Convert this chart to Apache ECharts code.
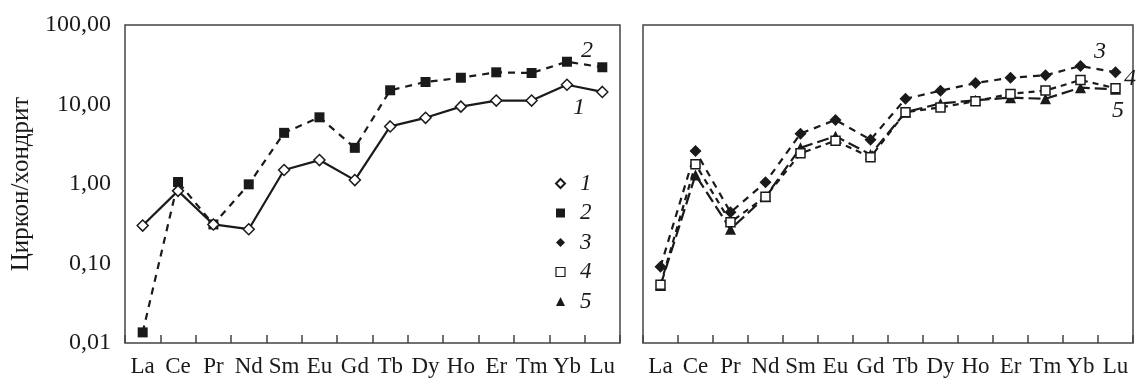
<!DOCTYPE html>
<html>
<head>
<meta charset="utf-8">
<script src="https://cdn.jsdelivr.net/npm/echarts@6/dist/echarts.min.js"></script>
<style>
  html, body { margin: 0; padding: 0; background: #fff; }
  #chart { width: 1136px; height: 380px; }
</style>
</head>
<body>
<div id="chart"></div>
<script>
/* REE, normalized to chondrite */
const elements = ['La', 'Ce', 'Pr', 'Nd', 'Sm', 'Eu', 'Gd', 'Tb', 'Dy', 'Ho', 'Er', 'Tm', 'Yb', 'Lu'];
const yTicks = [0.01, 0.1, 1, 10, 100];

// left panel
const sample1 = [0.30, 0.82, 0.31, 0.27, 1.5, 2.0, 1.12, 5.3, 6.8, 9.4, 11.2, 11.2, 17.7, 14.4];
const sample2 = [0.0136, 1.06, 0.31, 0.99, 4.4, 6.9, 2.85, 15.1, 19.2, 21.7, 25.4, 24.9, 34.5, 29.4];
// right panel
const sample3 = [0.091, 2.6, 0.44, 1.05, 4.3, 6.4, 3.6, 11.8, 14.9, 18.6, 21.7, 23.3, 30.5, 25.4];
const sample4 = [0.054, 1.77, 0.33, 0.69, 2.43, 3.5, 2.17, 8.0, 9.2, 11.0, 13.6, 15.0, 20.3, 16.0];
const sample5 = [0.053, 1.3, 0.27, 0.69, 2.85, 4.0, 2.35, 8.0, 10.3, 11.3, 12.2, 11.8, 16.3, 15.5];

const serif = '"Liberation Serif", "DejaVu Serif", serif';
const ink = '#1a1a1a';

const chart = echarts.init(document.getElementById('chart'));

const xAxisBase = (gridIndex) => ({
  type: 'category',
  gridIndex,
  data: elements,
  boundaryGap: true,
  axisLine: { show: false },
  axisTick: { show: true, inside: true, length: 8, interval: 0, lineStyle: { color: '#444', width: 1.5 } },
  axisLabel: { color: ink, fontFamily: serif, fontSize: 23, margin: 12, interval: 0 },
  splitLine: { show: false },
});

const yAxisBase = (gridIndex, showLabels) => ({
  type: 'log',
  logBase: 10,
  gridIndex,
  min: yTicks[0],
  max: yTicks[yTicks.length - 1],
  axisLine: { show: false },
  axisTick: { show: false },
  splitLine: { show: false },
  minorTick: { show: false },
  axisLabel: {
    show: showLabels,
    color: ink,
    fontFamily: serif,
    fontSize: 24,
    margin: 14,
    formatter: (v) => Number(v).toFixed(2).replace('.', ','),
  },
});

const makeSeries = (name, data, idx, symbol, filled, dash, size) => ({
  name,
  type: 'line',
  xAxisIndex: idx,
  yAxisIndex: idx,
  data,
  symbol,
  symbolSize: size,
  showSymbol: true,
  z: filled ? 3 : 4,
  lineStyle: { color: ink, width: 2.2, type: dash },
  itemStyle: {
    color: filled ? ink : '#fff',
    borderColor: ink,
    borderWidth: filled ? 0 : 1.5,
  },
  emphasis: { disabled: true },
});

const option = {
  animation: false,
  backgroundColor: '#fff',
  grid: [
    { left: 125, top: 25, width: 495, height: 318, show: true, borderColor: '#444', borderWidth: 1.5, containLabel: false },
    { left: 643, top: 25, width: 490, height: 318, show: true, borderColor: '#444', borderWidth: 1.5, containLabel: false },
  ],
  xAxis: [xAxisBase(0), xAxisBase(1)],
  yAxis: [
    Object.assign(yAxisBase(0, true), {
      name: 'Циркон/хондрит',
      nameLocation: 'middle',
      nameRotate: 90,
      nameGap: 91,
      nameTextStyle: { color: ink, fontFamily: serif, fontSize: 25 },
    }),
    yAxisBase(1, false),
  ],
  legend: {
    orient: 'vertical',
    left: 550,
    top: 167,
    itemGap: 6.5,
    itemWidth: 9,
    itemHeight: 9,
    selectedMode: false,
    textStyle: { color: ink, fontFamily: serif, fontStyle: 'italic', fontSize: 23, lineHeight: 22, padding: [0, 0, 0, 10] },
    data: [
      { name: '1', icon: 'diamond' },
      { name: '2', icon: 'rect' },
      { name: '3', icon: 'diamond' },
      { name: '4', icon: 'rect', itemStyle: { borderWidth: 1.2 } },
      { name: '5', icon: 'triangle' },
    ],
  },
  series: [
    makeSeries('1', sample1, 0, 'diamond', false, 'solid', 11),
    makeSeries('2', sample2, 0, 'rect', true, [7, 6], 10),
    makeSeries('3', sample3, 1, 'diamond', true, [7, 6], 12),
    makeSeries('4', sample4, 1, 'rect', false, [6, 5], 9),
    makeSeries('5', sample5, 1, 'triangle', true, [12, 5], 11),
  ],
  graphic: [
    { type: 'text', left: 581, top: 39, style: { text: '2', font: `italic 24px ${serif}`, fill: ink } },
    { type: 'text', left: 573, top: 96, style: { text: '1', font: `italic 24px ${serif}`, fill: ink } },
    { type: 'text', left: 1094, top: 40, style: { text: '3', font: `italic 24px ${serif}`, fill: ink } },
    { type: 'text', left: 1124, top: 67, style: { text: '4', font: `italic 24px ${serif}`, fill: ink } },
    { type: 'text', left: 1112, top: 99, style: { text: '5', font: `italic 24px ${serif}`, fill: ink } },
  ],
};

chart.setOption(option);
</script>
</body>
</html>
